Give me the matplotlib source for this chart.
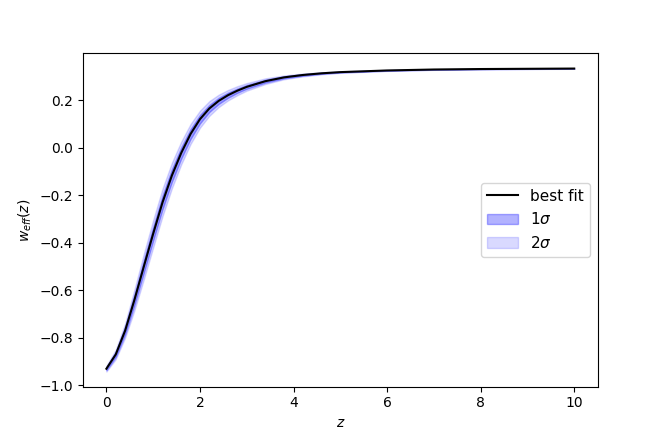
import matplotlib
matplotlib.use("Agg")
import matplotlib.pyplot as plt
import numpy as np

# best fit w_eff(z)
z = [0.0, 0.2, 0.4, 0.6, 0.8, 1.0, 1.2, 1.4, 1.6, 1.8, 2.0, 2.2, 2.4, 2.6, 2.8,
     3.0, 3.4, 3.8, 4.2, 4.6, 5.0, 6.0, 7.0, 8.0, 9.0, 10.0]
w_best = [-0.930, -0.870, -0.770, -0.640, -0.500, -0.362, -0.230, -0.117, -0.022,
          0.058, 0.120, 0.165, 0.197, 0.221, 0.240, 0.256, 0.280, 0.296, 0.306,
          0.313, 0.318, 0.325, 0.329, 0.331, 0.332, 0.333]

# half widths of the bands
sig1 = [0.006, 0.010, 0.015, 0.022, 0.027, 0.029, 0.029, 0.027, 0.024, 0.021,
        0.018, 0.015, 0.013, 0.011, 0.009, 0.008, 0.006, 0.004, 0.003, 0.002,
        0.0015, 0.001, 0.0008, 0.0006, 0.0005, 0.0005]
sig2 = [0.012, 0.020, 0.030, 0.044, 0.054, 0.058, 0.058, 0.054, 0.048, 0.042,
        0.036, 0.031, 0.026, 0.022, 0.019, 0.016, 0.012, 0.008, 0.006, 0.004,
        0.003, 0.002, 0.0015, 0.0012, 0.001, 0.001]

z = np.array(z)
w_best = np.array(w_best)
sig1 = np.array(sig1)
sig2 = np.array(sig2)

fig, ax = plt.subplots(figsize=(6.64, 4.43), dpi=100)
fig.subplots_adjust(bottom=0.127)

ax.plot(z, w_best, color='black', lw=1.5, label='best fit')
ax.fill_between(z, w_best - sig1, w_best + sig1, color='blue', alpha=0.3,
                label=r'1$\sigma$')
ax.fill_between(z, w_best - sig2, w_best + sig2, color='blue', alpha=0.15,
                label=r'2$\sigma$')

ax.set_xlabel(r'$z$')
ax.set_ylabel(r'$w_{eff}(z)$')
ax.legend(loc='center right', fontsize=11)

fig.savefig('out.png', dpi=100)
